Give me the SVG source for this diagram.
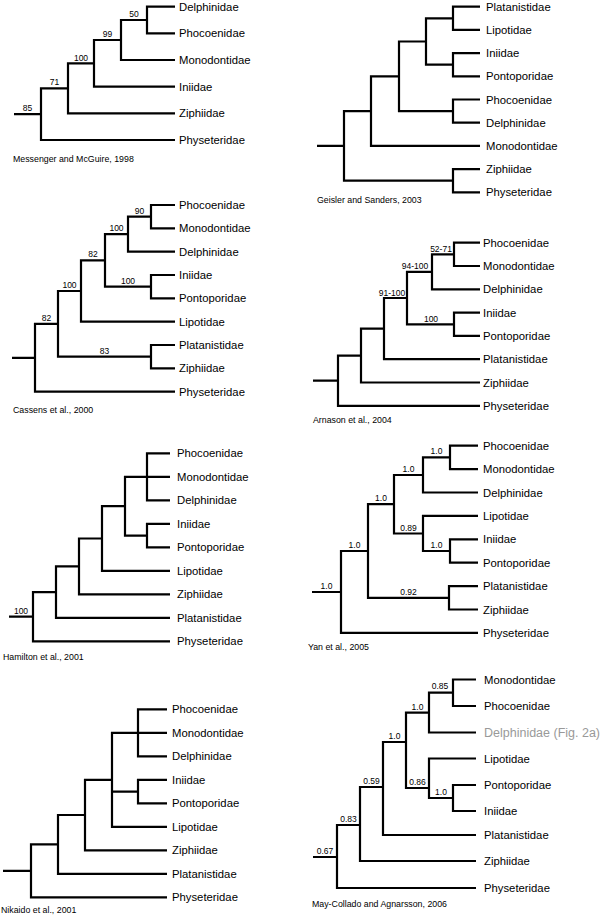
<svg xmlns="http://www.w3.org/2000/svg" width="600" height="916" viewBox="0 0 600 916">
<style>
.e{fill:none;stroke:#000;stroke-width:2.2;stroke-linejoin:miter}
.l{font-family:"Liberation Sans",Arial,sans-serif;font-size:11.3px;fill:#000}
.g{font-family:"Liberation Sans",Arial,sans-serif;font-size:12.5px;fill:#999}
.s{font-family:"Liberation Sans",Arial,sans-serif;font-size:8.5px;fill:#000;text-anchor:middle}
.c{font-family:"Liberation Sans",Arial,sans-serif;font-size:8.8px;fill:#000}
</style>
<rect width="600" height="916" fill="#fff"/>

<!-- Tree 1: Messenger and McGuire -->
<g id="tree-messenger">
<g id="t1-edges">
<path class="e" d="M175 6.7H147V33.3H175M147 20H121V60H175M121 40H94V86.7H175M94 63.3H68V113.3H175M68 88.3H41V140H175M41 114.2H14"/>
</g>
<g id="t1-support">
<text class="s" x="134" y="17">50</text>
<text class="s" x="107.5" y="37">99</text>
<text class="s" x="81" y="60.5">100</text>
<text class="s" x="54.5" y="85.3">71</text>
<text class="s" x="27.5" y="111.2">85</text>
</g>
<g id="t1-Delphinidae"><text class="l" x="179" y="10.7">Delphinidae</text></g>
<g id="t1-Phocoenidae"><text class="l" x="179" y="37.3">Phocoenidae</text></g>
<g id="t1-Monodontidae"><text class="l" x="179" y="64">Monodontidae</text></g>
<g id="t1-Iniidae"><text class="l" x="179" y="90.7">Iniidae</text></g>
<g id="t1-Ziphiidae"><text class="l" x="179" y="117.3">Ziphiidae</text></g>
<g id="t1-Physeteridae"><text class="l" x="179" y="144">Physeteridae</text></g>
<g id="t1-caption"><text class="c" x="13" y="162">Messenger and McGuire, 1998</text></g>
</g>

<!-- Tree 2: Geisler and Sanders -->
<g id="tree-geisler">
<g id="t2-edges">
<path class="e" d="M480 6.7H453V29.9H480M480 53.1H453V76.3H480M453 18.3H426V64.7H453M480 99.5H453V122.7H480M426 41.5H399V111.1H453M399 76.3H371V145.9H480M480 169.1H453V192.3H480M371 111.1H344V180.7H453M344 145.9H317"/>
</g>
<g id="t2-Platanistidae"><text class="l" x="486" y="10.7">Platanistidae</text></g>
<g id="t2-Lipotidae"><text class="l" x="486" y="33.9">Lipotidae</text></g>
<g id="t2-Iniidae"><text class="l" x="486" y="57.1">Iniidae</text></g>
<g id="t2-Pontoporidae"><text class="l" x="486" y="80.3">Pontoporidae</text></g>
<g id="t2-Phocoenidae"><text class="l" x="486" y="103.5">Phocoenidae</text></g>
<g id="t2-Delphinidae"><text class="l" x="486" y="126.7">Delphinidae</text></g>
<g id="t2-Monodontidae"><text class="l" x="486" y="149.9">Monodontidae</text></g>
<g id="t2-Ziphiidae"><text class="l" x="486" y="173.1">Ziphiidae</text></g>
<g id="t2-Physeteridae"><text class="l" x="486" y="196.3">Physeteridae</text></g>
<g id="t2-caption"><text class="c" x="317" y="203">Geisler and Sanders, 2003</text></g>
</g>

<!-- Tree 3: Cassens -->
<g id="tree-cassens">
<g id="t3-edges">
<path class="e" d="M175 205H151V228.3H175M151 216.7H128V251.7H175M175 275H151V298.3H175M128 234.2H105V286.7H151M105 260.4H81V321.7H175M175 345H151V368.3H175M81 291H58V356.7H151M58 323.9H35V391.7H175M35 357.8H12"/>
</g>
<g id="t3-support">
<text class="s" x="139.5" y="213.7">90</text>
<text class="s" x="116.5" y="231.2">100</text>
<text class="s" x="128" y="283.7">100</text>
<text class="s" x="93" y="257.4">82</text>
<text class="s" x="69.5" y="288">100</text>
<text class="s" x="104.5" y="353.7">83</text>
<text class="s" x="46.5" y="320.9">82</text>
</g>
<g id="t3-Phocoenidae"><text class="l" x="179" y="209">Phocoenidae</text></g>
<g id="t3-Monodontidae"><text class="l" x="179" y="232.3">Monodontidae</text></g>
<g id="t3-Delphinidae"><text class="l" x="179" y="255.7">Delphinidae</text></g>
<g id="t3-Iniidae"><text class="l" x="179" y="279">Iniidae</text></g>
<g id="t3-Pontoporidae"><text class="l" x="179" y="302.3">Pontoporidae</text></g>
<g id="t3-Lipotidae"><text class="l" x="179" y="325.7">Lipotidae</text></g>
<g id="t3-Platanistidae"><text class="l" x="179" y="349">Platanistidae</text></g>
<g id="t3-Ziphiidae"><text class="l" x="179" y="372.3">Ziphiidae</text></g>
<g id="t3-Physeteridae"><text class="l" x="179" y="395.7">Physeteridae</text></g>
<g id="t3-caption"><text class="c" x="13" y="413">Cassens et al., 2000</text></g>
</g>

<!-- Tree 4: Arnason -->
<g id="tree-arnason">
<g id="t4-edges">
<path class="e" d="M480 242.7H454V266H480M454 254.3H432V289.3H480M480 312.6H454V335.9H480M432 271.8H407V324.3H454M407 298H384V359.2H480M384 328.6H361V382.5H480M361 355.6H338V405.8H480M338 380.7H313"/>
</g>
<g id="t4-support">
<text class="s" x="441" y="251.5">52-71</text>
<text class="s" x="415" y="269">94-100</text>
<text class="s" x="431" y="321.5">100</text>
<text class="s" x="392" y="295.5">91-100</text>
</g>
<g id="t4-Phocoenidae"><text class="l" x="483" y="246.7">Phocoenidae</text></g>
<g id="t4-Monodontidae"><text class="l" x="483" y="270">Monodontidae</text></g>
<g id="t4-Delphinidae"><text class="l" x="483" y="293.3">Delphinidae</text></g>
<g id="t4-Iniidae"><text class="l" x="483" y="316.6">Iniidae</text></g>
<g id="t4-Pontoporidae"><text class="l" x="483" y="339.9">Pontoporidae</text></g>
<g id="t4-Platanistidae"><text class="l" x="483" y="363.2">Platanistidae</text></g>
<g id="t4-Ziphiidae"><text class="l" x="483" y="386.5">Ziphiidae</text></g>
<g id="t4-Physeteridae"><text class="l" x="483" y="409.8">Physeteridae</text></g>
<g id="t4-caption"><text class="c" x="313" y="423">Arnason et al., 2004</text></g>
</g>

<!-- Tree 5: Hamilton -->
<g id="tree-hamilton">
<g id="t5-edges">
<path class="e" d="M170 453.3H147V500.3H170M125 476.8H170M170 523.8H147V547.3H170M147 476.8H125V535.6H147M125 506.2H102V570.8H170M102 538.5H79V594.3H170M79 566.4H56V617.8H170M56 592.1H33V641.3H170M33 616.7H9"/>
</g>
<g id="t5-support">
<text class="s" x="21" y="613.7">100</text>
</g>
<g id="t5-Phocoenidae"><text class="l" x="177" y="457.3">Phocoenidae</text></g>
<g id="t5-Monodontidae"><text class="l" x="177" y="480.8">Monodontidae</text></g>
<g id="t5-Delphinidae"><text class="l" x="177" y="504.3">Delphinidae</text></g>
<g id="t5-Iniidae"><text class="l" x="177" y="527.8">Iniidae</text></g>
<g id="t5-Pontoporidae"><text class="l" x="177" y="551.3">Pontoporidae</text></g>
<g id="t5-Lipotidae"><text class="l" x="177" y="574.8">Lipotidae</text></g>
<g id="t5-Ziphiidae"><text class="l" x="177" y="598.3">Ziphiidae</text></g>
<g id="t5-Platanistidae"><text class="l" x="177" y="621.8">Platanistidae</text></g>
<g id="t5-Physeteridae"><text class="l" x="177" y="645.3">Physeteridae</text></g>
<g id="t5-caption"><text class="c" x="3" y="660">Hamilton et al., 2001</text></g>
</g>

<!-- Tree 6: Yan -->
<g id="tree-yan">
<g id="t6-edges">
<path class="e" d="M478 445.7H450V469.1H478M450 457.4H423V492.5H478M478 539.3H450V562.7H478M478 515.9H423V551H450M423 475H394V533.5H423M478 586.1H449V609.5H478M394 504.2H368V597.8H449M368 551H341V632.9H478M341 592H312"/>
</g>
<g id="t6-support">
<text class="s" x="436.5" y="454.4">1.0</text>
<text class="s" x="408.5" y="472">1.0</text>
<text class="s" x="436.5" y="548">1.0</text>
<text class="s" x="408.5" y="530.5">0.89</text>
<text class="s" x="381" y="501.2">1.0</text>
<text class="s" x="408.5" y="594.8">0.92</text>
<text class="s" x="354.5" y="548">1.0</text>
<text class="s" x="326.5" y="589">1.0</text>
</g>
<g id="t6-Phocoenidae"><text class="l" x="483" y="449.7">Phocoenidae</text></g>
<g id="t6-Monodontidae"><text class="l" x="483" y="473.1">Monodontidae</text></g>
<g id="t6-Delphinidae"><text class="l" x="483" y="496.5">Delphinidae</text></g>
<g id="t6-Lipotidae"><text class="l" x="483" y="519.9">Lipotidae</text></g>
<g id="t6-Iniidae"><text class="l" x="483" y="543.3">Iniidae</text></g>
<g id="t6-Pontoporidae"><text class="l" x="483" y="566.7">Pontoporidae</text></g>
<g id="t6-Platanistidae"><text class="l" x="483" y="590.1">Platanistidae</text></g>
<g id="t6-Ziphiidae"><text class="l" x="483" y="613.5">Ziphiidae</text></g>
<g id="t6-Physeteridae"><text class="l" x="483" y="636.9">Physeteridae</text></g>
<g id="t6-caption"><text class="c" x="308" y="650">Yan et al., 2005</text></g>
</g>

<!-- Tree 7: Nikaido -->
<g id="tree-nikaido">
<g id="t7-edges">
<path class="e" d="M167 709.3H138V756.3H167M112 732.8H167M167 779.8H138V803.3H167M112 791.6H138M138 732.8H112V826.8H167M112 779.8H85V850.3H167M85 815H58V873.8H167M58 844.4H31V897.3H167M31 870.9H3"/>
</g>
<g id="t7-Phocoenidae"><text class="l" x="172" y="713.3">Phocoenidae</text></g>
<g id="t7-Monodontidae"><text class="l" x="172" y="736.8">Monodontidae</text></g>
<g id="t7-Delphinidae"><text class="l" x="172" y="760.3">Delphinidae</text></g>
<g id="t7-Iniidae"><text class="l" x="172" y="783.8">Iniidae</text></g>
<g id="t7-Pontoporidae"><text class="l" x="172" y="807.3">Pontoporidae</text></g>
<g id="t7-Lipotidae"><text class="l" x="172" y="830.8">Lipotidae</text></g>
<g id="t7-Ziphiidae"><text class="l" x="172" y="854.3">Ziphiidae</text></g>
<g id="t7-Platanistidae"><text class="l" x="172" y="877.8">Platanistidae</text></g>
<g id="t7-Physeteridae"><text class="l" x="172" y="901.3">Physeteridae</text></g>
<g id="t7-caption"><text class="c" x="1" y="913">Nikaido et al., 2001</text></g>
</g>

<!-- Tree 8: May-Collado and Agnarsson -->
<g id="tree-maycollado">
<g id="t8-edges">
<path class="e" d="M476 679.5H453V706H476M453 692.7H429V732.5H476M476 785H453V811H476M476 758.5H429V798H453M429 712.6H406V788H429M406 742H383V835H476M383 787H360V861H476M360 825H337V888H476M337 857H313"/>
</g>
<g id="t8-support">
<text class="s" x="440" y="689">0.85</text>
<text class="s" x="417.5" y="710">1.0</text>
<text class="s" x="441" y="795">1.0</text>
<text class="s" x="417.5" y="785">0.86</text>
<text class="s" x="394.5" y="739">1.0</text>
<text class="s" x="371.5" y="784">0.59</text>
<text class="s" x="348.5" y="822">0.83</text>
<text class="s" x="325" y="854">0.67</text>
</g>
<g id="t8-Monodontidae"><text class="l" x="484" y="683.5">Monodontidae</text></g>
<g id="t8-Phocoenidae"><text class="l" x="484" y="710">Phocoenidae</text></g>
<g id="t8-Delphinidae"><text class="g" x="484" y="737">Delphinidae (Fig. 2a)</text></g>
<g id="t8-Lipotidae"><text class="l" x="484" y="762.5">Lipotidae</text></g>
<g id="t8-Pontoporidae"><text class="l" x="484" y="789">Pontoporidae</text></g>
<g id="t8-Iniidae"><text class="l" x="484" y="815">Iniidae</text></g>
<g id="t8-Platanistidae"><text class="l" x="484" y="839">Platanistidae</text></g>
<g id="t8-Ziphiidae"><text class="l" x="484" y="865">Ziphiidae</text></g>
<g id="t8-Physeteridae"><text class="l" x="484" y="892">Physeteridae</text></g>
<g id="t8-caption"><text class="c" x="312" y="907">May-Collado and Agnarsson, 2006</text></g>
</g>
</svg>
